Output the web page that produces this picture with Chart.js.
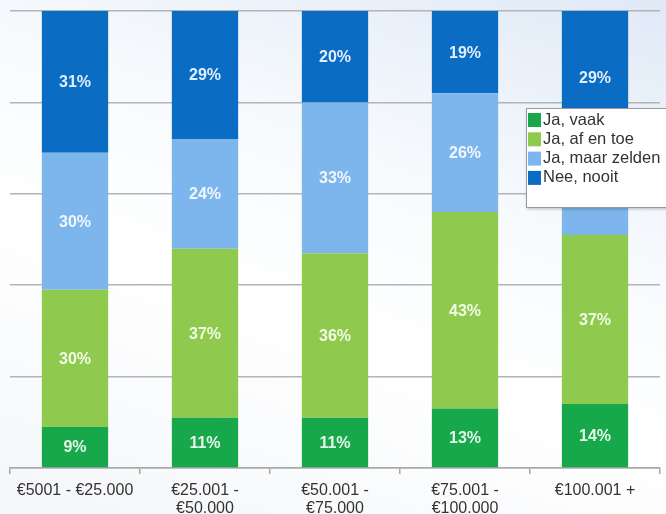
<!DOCTYPE html>
<html>
<head>
<meta charset="utf-8">
<script src="https://cdn.jsdelivr.net/npm/chart.js@4.4.0/dist/chart.umd.min.js"></script>
<style>
  html, body {
    margin: 0;
    padding: 0;
  }
  body {
    width: 666px;
    height: 514px;
    background: linear-gradient(200deg, #dfe9f6 0%, #f7fafd 35%, #ffffff 60%, #f4f6f9 100%);
    overflow: hidden;
  }
  #wrap {
    position: relative;
    width: 666px;
    height: 514px;
  }
</style>
</head>
<body>
<div id="wrap">
  <canvas id="myChart"></canvas>
</div>
<script>
// income groups
const incomeLabels = [
  "€5001 - €25.000",
  ["€25.001 -", "€50.000"],
  ["€50.001 -", "€75.000"],
  ["€75.001 -", "€100.000"],
  "€100.001 +",
];

// answers per group, in percent
const jaVaak = [9, 11, 11, 13, 14];
const jaAfEnToe = [30, 37, 36, 43, 37];
const jaMaarZelden = [30, 24, 33, 26, 20];
const neeNooit = [31, 29, 20, 19, 29];

const seriesNames = ["Ja, vaak", "Ja, af en toe", "Ja, maar zelden", "Nee, nooit"];
const seriesColors = ["#16a84b", "#8fca4f", "#7db6ec", "#0b6cc3"];
const labelColors = ["#e6f7ea", "#f2fbe6", "#f0f7ff", "#e2efff"];

const yTicks = [0, 20, 40, 60, 80, 100];

const allSeries = [jaVaak, jaAfEnToe, jaMaarZelden, neeNooit];

const fontFamily = "'Liberation Sans', Arial, sans-serif";

// write the percentage in the middle of each segment
const segmentLabels = {
  id: "segmentLabels",
  afterDatasetsDraw(chart) {
    const ctx = chart.ctx;
    const area = chart.chartArea;
    ctx.save();
    ctx.font = "bold 16px " + fontFamily;
    ctx.textAlign = "center";
    ctx.textBaseline = "middle";
    chart.data.datasets.forEach((ds, i) => {
      const meta = chart.getDatasetMeta(i);
      meta.data.forEach((bar, j) => {
        const top = Math.max(bar.y, area.top);
        const bottom = Math.min(bar.base, area.bottom);
        ctx.fillStyle = labelColors[i];
        ctx.fillText(ds.data[j] + "%", bar.x, (top + bottom) / 2 + 1);
      });
    });
    ctx.restore();
  },
};

// legend box sitting over the last bar
const boxLegend = {
  id: "boxLegend",
  afterDraw(chart) {
    const ctx = chart.ctx;
    const x = 526;
    const y = 108;
    const w = 150;
    const h = 99;
    ctx.save();
    ctx.shadowColor = "rgba(0,0,0,0.25)";
    ctx.shadowOffsetX = 1;
    ctx.shadowOffsetY = 2;
    ctx.shadowBlur = 3;
    ctx.fillStyle = "#ffffff";
    ctx.fillRect(x, y, w, h);
    ctx.shadowColor = "transparent";
    ctx.strokeStyle = "#9a9a9a";
    ctx.lineWidth = 1;
    ctx.strokeRect(x + 0.5, y + 0.5, w, h);
    ctx.font = "16.5px " + fontFamily;
    ctx.textBaseline = "middle";
    ctx.textAlign = "left";
    chart.data.datasets.forEach((ds, i) => {
      const rowY = y + 12 + i * 19.3;
      ctx.fillStyle = ds.backgroundColor;
      ctx.fillRect(x + 2, rowY - 7, 13, 14);
      ctx.fillStyle = "#333333";
      ctx.fillText(ds.label, x + 17, rowY);
    });
    ctx.restore();
  },
};

const data = {
  labels: incomeLabels,
  datasets: allSeries.map((values, i) => ({
    label: seriesNames[i],
    data: values,
    backgroundColor: seriesColors[i],
    borderWidth: 0,
    barPercentage: 0.51,
    categoryPercentage: 1,
  })),
};

const config = {
  type: "bar",
  data: data,
  options: {
    responsive: false,
    animation: false,
    layout: {
      padding: { left: 10, right: 6, top: 11, bottom: 0 },
    },
    plugins: {
      legend: { display: false },
      tooltip: { enabled: false },
    },
    scales: {
      x: {
        stacked: true,
        afterFit(axis) {
          axis.height = 46;
        },
        border: { display: true, color: "#a8a8a8", width: 1.5 },
        grid: {
          offset: true,
          drawOnChartArea: false,
          drawTicks: true,
          tickLength: 6,
          color: "#a8a8a8",
          lineWidth: 1.5,
        },
        ticks: {
          color: "#333333",
          font: { family: fontFamily, size: 16, lineHeight: 1.15 },
          maxRotation: 0,
          autoSkip: false,
          padding: 7,
        },
      },
      y: {
        stacked: true,
        min: yTicks[0],
        max: yTicks[yTicks.length - 1],
        afterBuildTicks(axis) {
          axis.ticks = yTicks.map((v) => ({ value: v }));
        },
        border: { display: false },
        grid: {
          drawTicks: false,
          color: "#b4b4b4",
          lineWidth: 1.5,
        },
        ticks: { display: false },
      },
    },
  },
  plugins: [segmentLabels, boxLegend],
};

const canvasChart = document.getElementById("myChart");
canvasChart.width = 666;
canvasChart.height = 514;
const myChart = new Chart(canvasChart, config);
</script>
</body>
</html>
